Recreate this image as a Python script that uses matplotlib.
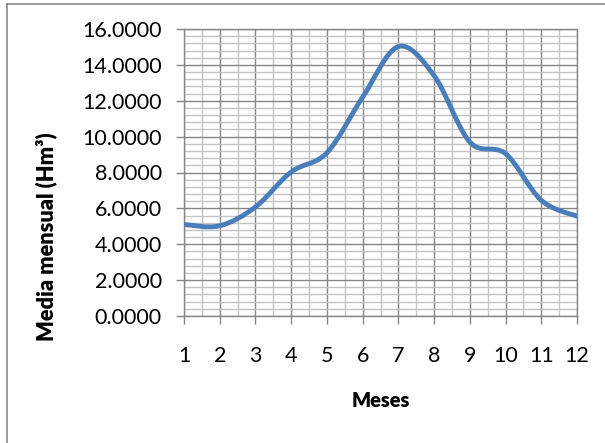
import matplotlib
matplotlib.use("Agg")
import matplotlib.pyplot as plt
import numpy as np
from matplotlib.path import Path
from matplotlib.patches import PathPatch
from matplotlib.ticker import MultipleLocator, FormatStrFormatter

plt.rcParams['font.family'] = ['Lato', 'DejaVu Sans']

meses = [1, 2, 3, 4, 5, 6, 7, 8, 9, 10, 11, 12]
media_mensual = [5.10, 5.03, 6.08, 8.03, 9.10, 12.20, 15.02, 13.40, 9.70, 9.05, 6.45, 5.56]
y_ticks = [0, 2, 4, 6, 8, 10, 12, 14, 16]
x_title = 'Meses'
y_title = 'Media mensual (Hm³)'

W, H = 605, 443
fig = plt.figure(figsize=(W / 100, H / 100), dpi=100)
ax = fig.add_axes([184 / W, 1 - 316 / H, (577 - 184) / W, (316 - 29) / H])

# Smoothed line (Bezier through the data points, like a spreadsheet "smoothed line")
x = np.array(meses, dtype=float)
y = np.array(media_mensual, dtype=float)
n = len(x)
verts = [(x[0], y[0])]
codes = [Path.MOVETO]
for i in range(n - 1):
    xp, yp = (x[i - 1], y[i - 1]) if i > 0 else (x[i], y[i])
    xn, yn = (x[i + 2], y[i + 2]) if i + 2 < n else (x[i + 1], y[i + 1])
    c1 = (x[i] + (x[i + 1] - xp) / 6, y[i] + (y[i + 1] - yp) / 6)
    c2 = (x[i + 1] - (xn - x[i]) / 6, y[i + 1] - (yn - y[i]) / 6)
    verts += [c1, c2, (x[i + 1], y[i + 1])]
    codes += [Path.CURVE4] * 3
patch = PathPatch(Path(verts, codes), facecolor='none', edgecolor='#4A7EBB',
                  lw=3.5, capstyle='round', joinstyle='round', zorder=5)
ax.add_patch(patch)

ax.set_xlim(1, 12)
ax.set_ylim(0, 16)
ax.set_xticks(meses)
ax.set_xticklabels([str(m) for m in meses])
ax.set_yticks(y_ticks)
ax.yaxis.set_major_formatter(FormatStrFormatter('%.4f'))
ax.xaxis.set_minor_locator(MultipleLocator(0.5))
ax.yaxis.set_minor_locator(MultipleLocator(0.4))

ax.grid(which='major', color='#868686', lw=1.0, zorder=1)
ax.grid(which='minor', color='#c3c3c3', lw=1.0, zorder=0)
ax.set_axisbelow(True)

for s in ax.spines.values():
    s.set_color('#868686')
    s.set_linewidth(1.0)

ax.tick_params(which='major', direction='out', length=5.5, width=1.0, color='#868686',
               labelsize=15.5, labelcolor='black')
ax.tick_params(axis='y', which='major', pad=10.5)
ax.tick_params(axis='x', which='major', pad=16)
ax.tick_params(which='minor', length=0)

# Axis titles placed like the spreadsheet chart
tx = fig.text(380.5 / W, 1 - 400.5 / H, x_title, ha='center', va='center',
              fontsize=15, fontweight='heavy')
ty = fig.text(46 / W, 1 - 237 / H, y_title, ha='center', va='center', rotation=90,
              fontsize=15, fontweight='heavy')

# fit title sizes to the reference extents
fig.canvas.draw()
r = fig.canvas.get_renderer()
for t, target, dim in [(tx, 59.0, 'w'), (ty, 210.0, 'h')]:
    bb = t.get_window_extent(r)
    cur = bb.width if dim == 'w' else bb.height
    t.set_fontsize(t.get_fontsize() * target / cur)

# Chart-area frame
fig.add_artist(plt.Line2D([7 / W, 1.0], [1 - 4 / H, 1 - 4 / H], color='#868686', lw=1.2,
                          transform=fig.transFigure))
fig.add_artist(plt.Line2D([7 / W, 7 / W], [0, 1 - 4 / H], color='#868686', lw=1.2,
                          transform=fig.transFigure))

fig.savefig('out.png', dpi=100)
